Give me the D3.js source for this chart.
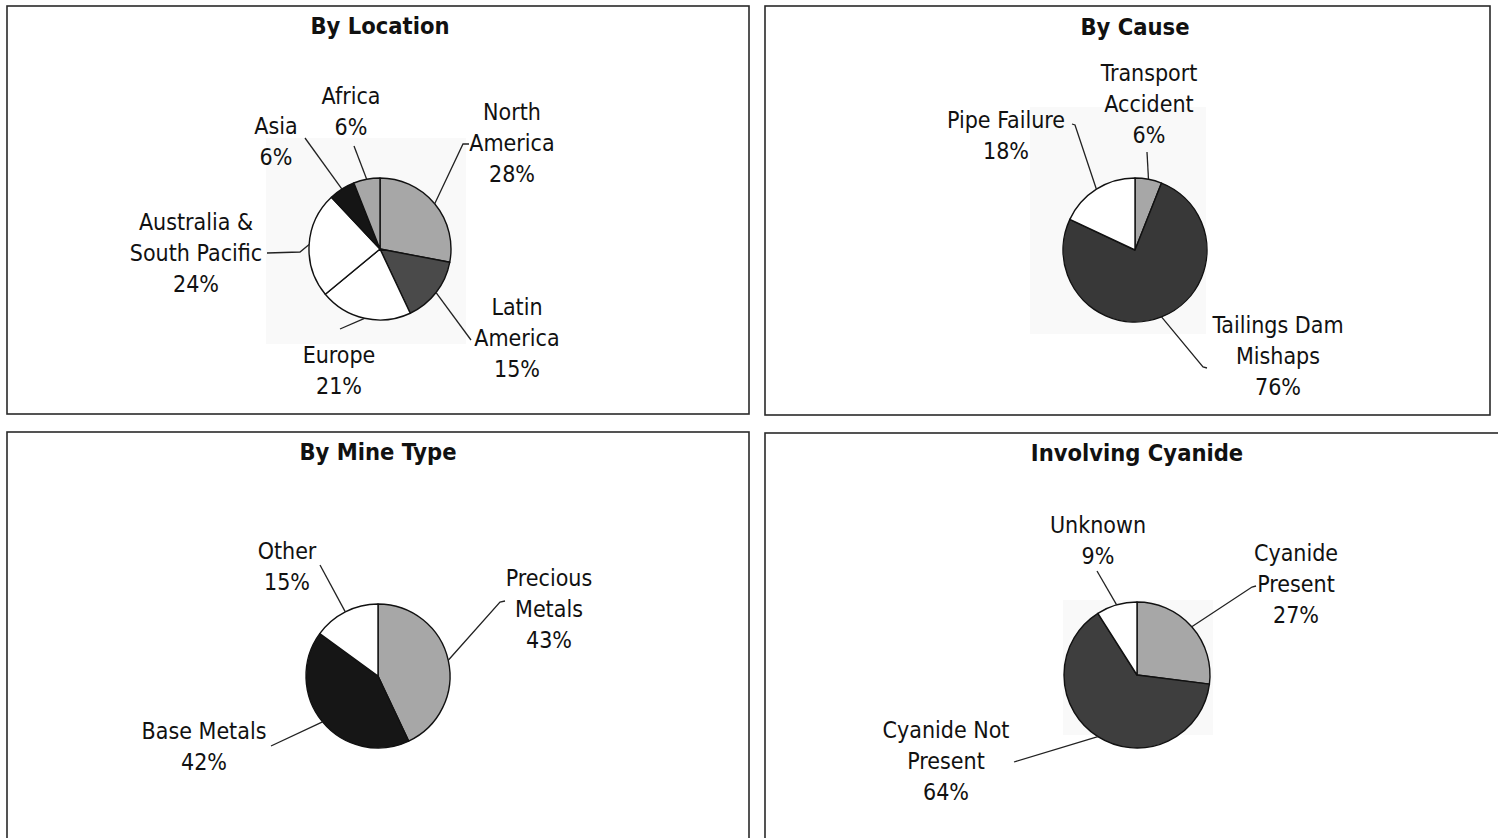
<!DOCTYPE html>
<html>
<head>
<meta charset="utf-8">
<script src="https://cdn.jsdelivr.net/npm/d3@7"></script>
<style>
  html, body { margin: 0; padding: 0; background: #fff; }
  svg { display: block; }
  .lbl { font-family: "DejaVu Sans Condensed", "DejaVu Sans", sans-serif; font-stretch: condensed; font-size: 23px; fill: #111; }
  .ttl { font-family: "DejaVu Sans Condensed", "DejaVu Sans", sans-serif; font-stretch: condensed; font-size: 23.5px; font-weight: bold; fill: #111; }
</style>
</head>
<body>
<svg id="chart" width="1498" height="838"></svg>
<script>
// Incidents by location
const locationCats = ["North\nAmerica", "Latin\nAmerica", "Europe", "Australia &\nSouth Pacific", "Asia", "Africa"];
const locationVals = [28, 15, 21, 24, 6, 6];

// Incidents by cause
const causeCats = ["Transport\nAccident", "Tailings Dam\nMishaps", "Pipe Failure"];
const causeVals = [6, 76, 18];

// Incidents by mine type
const mineCats = ["Precious\nMetals", "Base Metals", "Other"];
const mineVals = [43, 42, 15];

// Incidents involving cyanide
const cyanideCats = ["Cyanide\nPresent", "Cyanide Not\nPresent", "Unknown"];
const cyanideVals = [27, 64, 9];

const titles = ["By Location", "By Cause", "By Mine Type", "Involving Cyanide"];

// Slice fills
const LIGHT = "#a7a7a7";
const locationFill = [LIGHT, "#4a4a4a", "#ffffff", "#ffffff", "#151515", LIGHT];
const causeFill = [LIGHT, "#383838", "#ffffff"];
const mineFill = [LIGHT, "#161616", "#ffffff"];
const cyanideFill = [LIGHT, "#3e3e3e", "#ffffff"];

// Panel layout: frame, pie centre/radius, title baseline, label anchors
// (label: centre x / first baseline relative to pie centre; lead: leader start points)
const panels = [
  { frame: [7, 6, 742, 408], cx: 380, cy: 249, r: 71, titleY: 34, haze: [266, 138, 200, 206],
    cats: locationCats, vals: locationVals, fill: locationFill,
    labels: [
      { at: [132, -129], lead: [[89, -105], [83, -105]] },
      { at: [137, 66],   lead: [[91, 91]] },
      { at: [-41, 114],  lead: [[-40, 80]] },
      { at: [-184, -19], lead: [[-113, 4], [-80, 3]] },
      { at: [-104, -115], lead: [[-75, -111]] },
      { at: [-29, -145], lead: [[-26, -103]] }
    ] },
  { frame: [765, 6, 725, 409], cx: 1135, cy: 250, r: 72, titleY: 35, haze: [1030, 107, 176, 227],
    cats: causeCats, vals: causeVals, fill: causeFill,
    labels: [
      { at: [14, -169], lead: [[12, -98]] },
      { at: [143, 83],  lead: [[72, 118], [68, 117]] },
      { at: [-129, -122], lead: [[-63, -126], [-60, -125]] }
    ] },
  { frame: [7, 432, 742, 430], cx: 378, cy: 676, r: 72, titleY: 460, haze: null,
    cats: mineCats, vals: mineVals, fill: mineFill,
    labels: [
      { at: [171, -90], lead: [[127, -75], [122, -74]] },
      { at: [-174, 63], lead: [[-107, 70]] },
      { at: [-91, -117], lead: [[-58, -111]] }
    ] },
  { frame: [765, 433, 760, 430], cx: 1137, cy: 675, r: 73, titleY: 461, haze: [1063, 600, 150, 135],
    cats: cyanideCats, vals: cyanideVals, fill: cyanideFill,
    labels: [
      { at: [159, -114], lead: [[119, -89], [115, -88]] },
      { at: [-191, 63],  lead: [[-123, 87]] },
      { at: [-39, -142], lead: [[-40, -104]] }
    ] }
];

const LINE_H = 31;
const svg = d3.select("#chart");

panels.forEach((p, i) => {
  const g = svg.append("g");

  // Frame
  g.append("rect")
    .attr("x", p.frame[0]).attr("y", p.frame[1])
    .attr("width", p.frame[2]).attr("height", p.frame[3])
    .attr("fill", "none").attr("stroke", "#2a2a2a").attr("stroke-width", 1.6);

  // Faint plot-area background
  if (p.haze) {
    g.append("rect")
      .attr("x", p.haze[0]).attr("y", p.haze[1])
      .attr("width", p.haze[2]).attr("height", p.haze[3])
      .attr("fill", "#f9f9f9");
  }

  // Title
  g.append("text").attr("class", "ttl")
    .attr("x", p.cx)
    .attr("y", p.titleY)
    .attr("text-anchor", "middle")
    .text(titles[i]);

  // Pie: clockwise from 12 o'clock, data order kept
  const pie = d3.pie().sort(null).value(d => d.v).startAngle(0).endAngle(2 * Math.PI);
  const data = pie(p.vals.map((v, k) => ({ v, k, name: p.cats[k] })));
  const arc = d3.arc().innerRadius(0).outerRadius(p.r);

  const pg = g.append("g").attr("transform", `translate(${p.cx},${p.cy})`);
  pg.selectAll("path.slice").data(data).join("path")
    .attr("class", "slice")
    .attr("d", arc)
    .attr("fill", d => p.fill[d.data.k])
    .attr("stroke", "#111")
    .attr("stroke-width", 1.4)
    .attr("stroke-linejoin", "round");

  // Leader lines: from label side to the slice edge at its mid-angle
  const line = d3.line();
  data.forEach(d => {
    const L = p.labels[d.data.k];
    const mid = (d.startAngle + d.endAngle) / 2;
    const edge = [p.r * Math.sin(mid), -p.r * Math.cos(mid)];
    pg.append("path")
      .attr("d", line([...L.lead, edge]))
      .attr("fill", "none")
      .attr("stroke", "#222")
      .attr("stroke-width", 1.3);

    const lines = d.data.name.split("\n").concat([d.data.v + "%"]);
    const t = pg.append("text").attr("class", "lbl")
      .attr("text-anchor", "middle")
      .attr("x", L.at[0]).attr("y", L.at[1]);
    lines.forEach((s, j) => {
      t.append("tspan").attr("x", L.at[0]).attr("y", L.at[1] + j * LINE_H).text(s);
    });
  });
});
</script>
</body>
</html>
